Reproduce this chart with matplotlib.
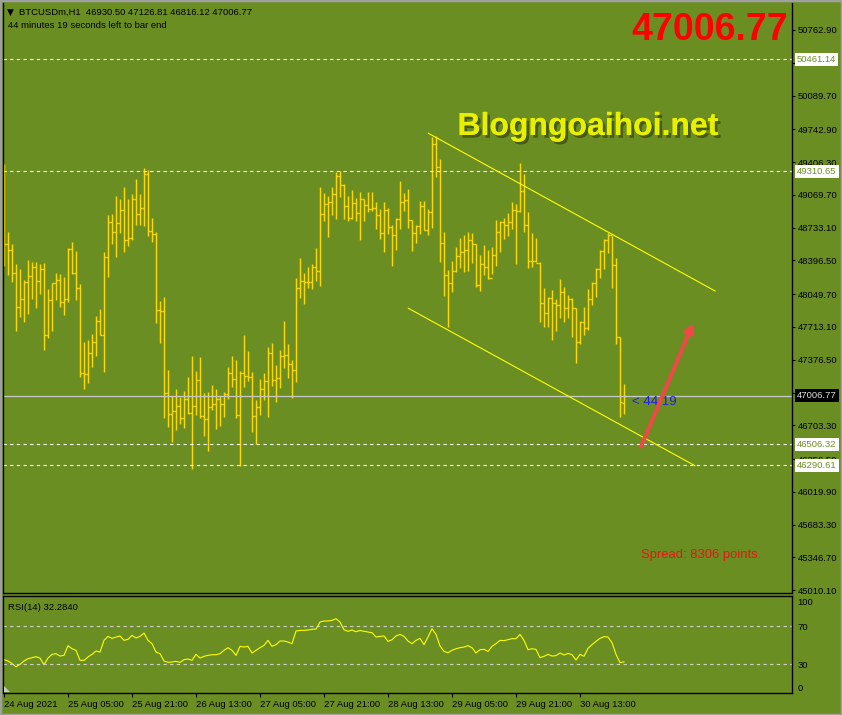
import numpy as np
import matplotlib
matplotlib.use("Agg")
import matplotlib.pyplot as plt
import matplotlib.patheffects as pe
from matplotlib.patches import Polygon

plt.rcParams['font.family'] = ['Liberation Sans', 'DejaVu Sans']

# ---- data (BTCUSDm H1, bar 0 = 24 Aug 13:00) ----
highs = [49387, 48688, 48565, 48360, 48308, 48195, 48401, 48380, 48380, 48360,
         48370, 48103, 48168, 48267, 48257, 48226, 48524, 48586, 48493, 48154,
         47559, 47579, 47641, 47826, 47898, 48483, 48863, 48873, 49058, 49027,
         49150, 49027, 49079, 49233, 49079, 49346, 49325, 48832, 48688, 47980,
         48021, 47271, 47008, 47079, 46997, 47056, 47199, 47415, 47261, 47405,
         47035, 47049, 47117, 47076, 47004, 47045, 47302, 47415, 47374, 47261,
         47631, 47466, 47251, 46963, 47179, 47240, 47507, 47548, 47323, 47477,
         47774, 47538, 47374, 48216, 48421, 48267, 48329, 48360, 48524, 49151,
         49089, 49058, 49151, 49305, 49315, 49181, 49058, 49120, 49038, 49099,
         49027, 49099, 49099, 48996, 48925, 48996, 48935, 48760, 48832, 49212,
         49089, 49130, 48812, 48760, 49007, 49003, 48921, 49667, 49674, 49438,
         48685, 48295, 48394, 48534, 48630, 48658, 48688, 48678, 48565, 48456,
         48555, 48507, 48534, 48812, 48805, 48836, 48880, 48993, 48973, 49394,
         49281, 48890, 48678, 48623, 48377, 48110, 48024, 48089, 47997, 48202,
         48127, 48045, 48014, 47911, 47774, 47918, 48103, 48178, 48315, 48500,
         48613, 48682, 48647, 48418, 47613, 47126.81]

lows = [48343, 48247, 48178, 47675, 47819, 47768, 47850, 48004, 47911, 48055,
        47480, 47603, 47675, 47990, 47922, 47839, 47973, 48261, 47993, 47203,
        47079, 47141, 47305, 47418, 47634, 47254, 48230, 48569, 48435, 48682,
        48486, 48548, 48606, 48764, 48760, 48753, 48651, 48589, 47757, 47552,
        46782, 46689, 46535, 46658, 46720, 46679, 46819, 46251, 46812, 46782,
        46597, 46443, 46857, 46669, 46700, 46792, 46977, 47100, 46782, 46282,
        47100, 47162, 46638, 46511, 46812, 46967, 46792, 47110, 46946, 47090,
        47295, 47192, 46987, 47151, 48014, 47952, 48110, 48106, 48189, 48137,
        48805, 48641, 48863, 48825, 49051, 48825, 48805, 48825, 48805, 48610,
        48805, 48897, 48907, 48723, 48620, 48486, 48671, 48343, 48507, 48723,
        48907, 48733, 48497, 48579, 48671, 48706, 48661, 48726, 49257, 48384,
        48035, 47709, 48076, 48274, 48315, 48274, 48291, 48373, 48120, 48086,
        48243, 48202, 48254, 48336, 48486, 48620, 48644, 48723, 48356, 48897,
        48692, 48315, 48332, 48377, 47768, 47709, 47709, 47576, 47668, 47809,
        47768, 47809, 47607, 47340, 47542, 47634, 47685, 47935, 48024, 48219,
        48312, 48476, 48117, 47535, 46792, 46816.12]

opens = [48580, 48562, 48504, 48264, 47922, 47997, 48171, 48240, 48326, 48182,
         48308, 47631, 47987, 48161, 48195, 47970, 47997, 48514, 48271, 48113,
         47237, 47227, 47446, 47559, 47778, 47634, 48432, 48795, 48688, 48784,
         48914, 48606, 48630, 49027, 48873, 48938, 49284, 48699, 48664, 47884,
         47877, 47038, 46819, 46854, 46901, 46778, 46973, 46833, 46901, 47168,
         46802, 46768, 46891, 46919, 46970, 46919, 47021, 47237, 47175, 46806,
         47237, 47206, 47196, 46795, 46891, 47073, 47155, 47442, 47165, 47186,
         47418, 47429, 47329, 47268, 48110, 48182, 48172, 48172, 48326, 48284,
         48870, 48979, 49000, 49079, 49260, 49168, 48952, 48829, 48983, 48880,
         49027, 48969, 48925, 48935, 48860, 48682, 48911, 48740, 48661, 48825,
         48993, 49020, 48808, 48675, 48750, 48959, 48709, 48890, 49592, 49353,
         48572, 48243, 48161, 48291, 48442, 48483, 48504, 48603, 48565, 48141,
         48356, 48326, 48219, 48449, 48685, 48795, 48764, 48795, 48918, 48901,
         49109, 48764, 48394, 48394, 48370, 47963, 47853, 48007, 47956, 47939,
         48069, 47904, 48000, 47904, 47562, 47764, 47699, 47997, 48161, 48308,
         48493, 48610, 48661, 48349, 47607, 46930.50]

closes = [48562, 48504, 48264, 47922, 47997, 48171, 48240, 48326, 48182, 48308,
          47631, 47987, 48161, 48195, 47970, 47997, 48514, 48271, 48113, 47237,
          47227, 47446, 47559, 47778, 47634, 48432, 48795, 48688, 48784, 48914,
          48606, 48630, 49027, 48873, 48938, 49284, 48699, 48664, 47884, 47877,
          47038, 46819, 46854, 46901, 46778, 46973, 46833, 46901, 47168, 46802,
          46768, 46891, 46919, 46970, 46919, 47021, 47237, 47175, 46806, 47237,
          47206, 47196, 46795, 46891, 47073, 47155, 47442, 47165, 47186, 47418,
          47429, 47329, 47268, 48110, 48182, 48172, 48172, 48326, 48284, 48870,
          48979, 49000, 49079, 49260, 49168, 48952, 48829, 48983, 48880, 49027,
          48969, 48925, 48935, 48860, 48682, 48911, 48740, 48661, 48825, 48993,
          49020, 48808, 48675, 48750, 48959, 48709, 48890, 49592, 49353, 48572,
          48243, 48161, 48291, 48442, 48483, 48504, 48603, 48565, 48141, 48356,
          48326, 48219, 48449, 48685, 48795, 48764, 48795, 48918, 48901, 49109,
          48764, 48394, 48394, 48370, 47963, 47853, 48007, 47956, 47939, 48069,
          47904, 48000, 47904, 47562, 47764, 47699, 47997, 48161, 48308, 48493,
          48610, 48661, 48349, 47607, 46939, 47006.77]

rsi = [34.6, 33.2, 30.4, 27.2, 29.6, 33.2, 35.6, 36.7, 37.7, 36.3,
       29.3, 36.3, 40.2, 40.9, 38.4, 39.1, 49.3, 46.1, 44.4, 33.9,
       33.9, 37.4, 40.2, 43.7, 42.6, 54.9, 59.1, 57.0, 58.4, 59.5,
       54.9, 56.0, 60.2, 57.4, 59.1, 62.6, 54.9, 51.4, 42.6, 40.9,
       33.2, 31.7, 32.1, 32.8, 31.7, 34.6, 35.3, 33.9, 40.2, 36.3,
       38.1, 39.1, 39.8, 39.8, 40.9, 44.4, 47.2, 44.4, 39.1, 48.6,
       47.9, 48.6, 41.6, 44.4, 47.2, 49.6, 54.9, 48.6, 50.4, 54.2,
       54.2, 53.2, 51.4, 64.7, 65.4, 65.4, 65.8, 66.5, 66.8, 74.2,
       75.3, 75.3, 76.0, 77.7, 74.2, 66.1, 64.4, 65.8, 64.0, 65.4,
       64.4, 63.7, 63.0, 58.4, 59.1, 59.5, 53.9, 55.6, 59.5, 61.2,
       59.1, 54.2, 51.4, 54.9, 57.0, 50.4, 58.4, 67.2, 61.2, 49.0,
       43.3, 41.9, 44.4, 46.1, 47.2, 47.9, 49.3, 47.2, 41.6, 45.1,
       45.4, 43.3, 48.6, 51.4, 54.9, 54.6, 55.6, 56.7, 56.7, 61.2,
       54.9, 45.1, 46.1, 45.4, 36.7, 38.1, 40.2, 38.4, 38.8, 41.6,
       39.5, 41.2, 39.8, 34.2, 40.2, 38.1, 46.5, 50.4, 53.9, 57.0,
       58.8, 58.4, 52.5, 40.2, 31.4, 32.28]

price_ticks = [50762.90, 50426.30, 50089.70, 49742.90, 49406.30, 49069.70,
               48733.10, 48396.50, 48049.70, 47713.10, 47376.50, 47039.90,
               46703.30, 46356.50, 46019.90, 45683.30, 45346.70, 45010.10]
dashed_levels = [50461.14, 49310.65, 46506.32, 46290.61]
bid = 47006.77

time_pos = [0, 16, 32, 48, 64, 80, 96, 112, 128, 144]
time_labels = ['24 Aug 2021', '25 Aug 05:00', '25 Aug 21:00', '26 Aug 13:00',
               '27 Aug 05:00', '27 Aug 21:00', '28 Aug 13:00', '29 Aug 05:00',
               '29 Aug 21:00', '30 Aug 13:00']

# channel lines and arrow (bar index, price)
upper_x, upper_y = [106.1, 177.8], [49702, 48082]
lower_x, lower_y = [101.1, 172.75], [47905, 46288]
arrow_tail = (159.25, 46483)
arrow_head = (172.3, 47757)

BG = '#6B8E23'
GOLD = '#FFD700'
W, H = 842, 715


def fx(px):
    return px / W


def fy(py):
    return 1 - py / H


fig = plt.figure(figsize=(W / 100, H / 100), dpi=100, facecolor=BG)

ax = fig.add_axes([fx(3), fy(593), fx(792) - fx(3), fy(3) - fy(593)], facecolor=BG)
ax2 = fig.add_axes([fx(3), fy(693), fx(792) - fx(3), fy(596) - fy(693)], facecolor=BG)

n = len(closes)
x = np.arange(n)

# price bars
ax.vlines(x, lows, highs, color=GOLD, lw=1.05)
ax.hlines(opens, x - 0.45, x, color=GOLD, lw=1.0)
ax.hlines(closes, x, x + 0.45, color=GOLD, lw=1.0)

for lv in dashed_levels:
    ax.axhline(lv, color='white', lw=0.8, ls=(0, (3, 3)))
ax.axhline(bid, color='#C8C8C8', lw=0.9)

ax.plot(upper_x, upper_y, color='#FFFF00', lw=0.8)
ax.plot(lower_x, lower_y, color='#FFFF00', lw=0.8)

ax.text(157, 46942, '< 44.19', color='#1E1EE6', fontsize=9.5, va='center', ha='left')
ax.annotate('', xy=arrow_head, xytext=arrow_tail,
            arrowprops=dict(arrowstyle='-|>', color='#F04848', lw=2.8, mutation_scale=13,
                            shrinkA=0, shrinkB=0))

ax.set_xlim(-0.25, 197)
ax.set_ylim(44981, 51040)
ax.set_xticks([])
ax.yaxis.tick_right()
ax.set_yticks(price_ticks)
ax.set_yticklabels(['%.2f' % v for v in price_ticks])
ax.tick_params(axis='y', length=2.5, width=0.8, pad=1.5, labelsize=6.8, colors='black')
for s in ['left', 'right', 'bottom']:
    ax.spines[s].set_color('black')
    ax.spines[s].set_linewidth(1)
ax.spines['top'].set_visible(False)

# boxed level labels on the price scale
for lv in dashed_levels:
    ax.annotate('%.2f' % lv, xy=(1, lv), xycoords=('axes fraction', 'data'),
                xytext=(3.6, 0), textcoords='offset points', va='center', ha='left',
                fontsize=6.8, color=BG, annotation_clip=False,
                bbox=dict(boxstyle='square,pad=0.22', fc='white', ec='none'))
ax.annotate('%.2f' % bid, xy=(1, bid), xycoords=('axes fraction', 'data'),
            xytext=(3.6, 0), textcoords='offset points', va='center', ha='left',
            fontsize=6.8, color='#E0E0E0', annotation_clip=False,
            bbox=dict(boxstyle='square,pad=0.22', fc='black', ec='none'))

# RSI panel
ax2.plot(x, rsi, color='#FFFF00', lw=0.8)
for lv in [70, 30]:
    ax2.axhline(lv, color='#D0D0D0', lw=0.8, ls=(0, (3, 3)))
ax2.set_xlim(-0.25, 197)
ax2.set_ylim(-0.5, 101.6)
ax2.yaxis.tick_right()
ax2.set_yticks([0, 30, 70, 100])
ax2.set_yticklabels(['0', '30', '70', '100'])
ax2.tick_params(axis='y', length=0, pad=4, labelsize=6.8, colors='black')
labs = ax2.get_yticklabels()
labs[0].set_va('bottom')
labs[3].set_va('top')
ax2.set_xticks(time_pos)
ax2.set_xticklabels(time_labels, ha='left')
ax2.tick_params(axis='x', length=3, width=0.8, pad=2, labelsize=6.8, colors='black')
for s in ax2.spines.values():
    s.set_color('black')
    s.set_linewidth(1)
ax2.text(0.006, 0.93, 'RSI(14) 32.2840', transform=ax2.transAxes, fontsize=6.8,
         va='top', ha='left', color='black')

# screen labels
fig.text(fx(7), fy(12), '\u25BC', fontsize=6.5, va='center', ha='left', color='black',
         family=['DejaVu Sans'])
fig.text(fx(19), fy(12), 'BTCUSDm,H1  46930.50 47126.81 46816.12 47006.77',
         fontsize=6.8, va='center', ha='left', color='black')
fig.text(fx(8), fy(25), '44 minutes 19 seconds left to bar end',
         fontsize=6.8, va='center', ha='left', color='black')
fig.text(fx(788), fy(40), '47006.77', fontsize=27, fontweight='bold', color='#FF0000',
         ha='right', va='baseline')
fig.text(fx(588), fy(135), 'Blogngoaihoi.net', fontsize=23, fontweight='bold',
         color='#E8F000', ha='center', va='baseline',
         path_effects=[pe.withSimplePatchShadow(offset=(2, -2), shadow_rgbFace='#2E3A0A', alpha=0.6),
                       pe.Normal()])
fig.text(fx(641), fy(555), 'Spread: 8306 points.', fontsize=9.4, color='#E81414',
         ha='left', va='center')

fig.patches.append(Polygon([[fx(4), fy(686)], [fx(4), fy(692)], [fx(10), fy(692)]],
                           closed=True, transform=fig.transFigure, fc='#C8C8C8', ec='none'))
fig.patches.append(plt.Rectangle((0, 0), 1, 1, transform=fig.transFigure, fill=False,
                                 ec='#A0A0A0', lw=2.5))

fig.savefig('out.png', dpi=100, facecolor=BG)
